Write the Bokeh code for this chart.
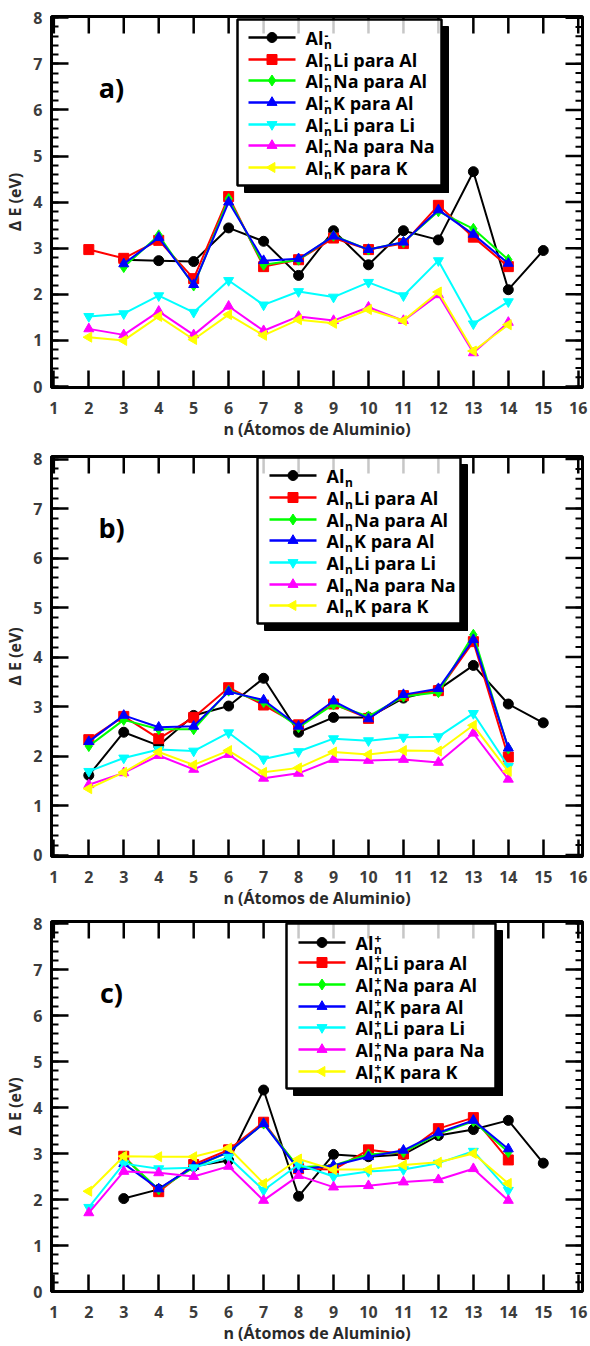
import numpy as np
from bokeh.plotting import figure
from bokeh.layouts import column
from bokeh.models import Range1d, FixedTicker
from bokeh.core.properties import value
from bokeh.embed import file_html
from bokeh.resources import INLINE

FONT = "Open Sans"
TICK_COLOR = "#3c3c3c"
TITLE_COLOR = "#2a2a2a"

# ---------------------------------------------------------------- data
# cluster size n (number of aluminium atoms)
n_2_14 = list(range(2, 15))
n_2_15 = list(range(2, 16))
n_3_14 = list(range(3, 15))
n_3_15 = list(range(3, 16))

# a) anionic clusters Al_n^-
a_aln = [2.75, 2.73, 2.71, 3.44, 3.15, 2.41, 3.38, 2.64, 3.38, 3.18, 4.66, 2.10, 2.95]
a_li_al = [2.97, 2.78, 3.17, 2.34, 4.12, 2.60, 2.75, 3.22, 2.97, 3.10, 3.93, 3.24, 2.60]
a_na_al = [2.59, 3.28, 2.19, 4.07, 2.64, 2.75, 3.27, 2.97, 3.13, 3.80, 3.42, 2.75]
a_k_al = [2.66, 3.23, 2.21, 4.00, 2.73, 2.77, 3.26, 2.97, 3.13, 3.83, 3.30, 2.67]
a_li_li = [1.52, 1.58, 1.97, 1.61, 2.30, 1.77, 2.06, 1.94, 2.26, 1.97, 2.73, 1.36, 1.84]
a_na_na = [1.25, 1.12, 1.63, 1.12, 1.74, 1.21, 1.52, 1.43, 1.72, 1.43, 1.99, 0.73, 1.39]
a_k_k = [1.07, 1.00, 1.52, 1.02, 1.56, 1.11, 1.45, 1.37, 1.67, 1.43, 2.05, 0.77, 1.34]

# b) neutral clusters Al_n
b_aln = [1.61, 2.48, 2.21, 2.82, 3.01, 3.57, 2.48, 2.78, 2.78, 3.17, 3.34, 3.83, 3.05, 2.67]
b_li_al = [2.33, 2.80, 2.35, 2.78, 3.38, 3.03, 2.63, 3.05, 2.76, 3.22, 3.32, 4.31, 1.98]
b_na_al = [2.20, 2.73, 2.54, 2.54, 3.32, 3.09, 2.58, 3.04, 2.80, 3.20, 3.29, 4.45, 2.15]
b_k_al = [2.29, 2.82, 2.58, 2.60, 3.30, 3.13, 2.60, 3.11, 2.75, 3.24, 3.36, 4.35, 2.16]
b_li_li = [1.69, 1.96, 2.13, 2.10, 2.47, 1.94, 2.09, 2.35, 2.31, 2.38, 2.39, 2.86, 1.79]
b_na_na = [1.42, 1.66, 2.01, 1.73, 2.03, 1.55, 1.65, 1.93, 1.91, 1.93, 1.87, 2.46, 1.53]
b_k_k = [1.34, 1.67, 2.08, 1.82, 2.11, 1.67, 1.76, 2.08, 2.03, 2.11, 2.10, 2.62, 1.69]

# c) cationic clusters Al_n^+
c_aln = [2.02, 2.22, 2.72, 2.85, 4.38, 2.07, 2.98, 2.93, 2.98, 3.39, 3.52, 3.72, 2.79]
c_li_al = [2.94, 2.17, 2.76, 3.08, 3.68, 2.67, 2.65, 3.08, 2.99, 3.54, 3.78, 2.86]
c_na_al = [2.92, 2.22, 2.70, 3.03, 3.65, 2.70, 2.74, 2.98, 3.03, 3.43, 3.70, 3.03]
c_k_al = [2.78, 2.23, 2.72, 3.03, 3.65, 2.65, 2.74, 2.93, 3.07, 3.45, 3.72, 3.10]
c_li_li = [1.83, 2.78, 2.67, 2.69, 2.92, 2.20, 2.76, 2.50, 2.61, 2.65, 2.79, 3.05, 2.20]
c_na_na = [1.71, 2.61, 2.58, 2.50, 2.72, 1.98, 2.52, 2.27, 2.30, 2.38, 2.43, 2.67, 1.98]
c_k_k = [2.18, 2.94, 2.93, 2.93, 3.12, 2.35, 2.88, 2.65, 2.65, 2.75, 2.81, 3.00, 2.35]

x_ticks = list(range(1, 17))
y_ticks = list(range(0, 9))
y_minor = [i * 0.2 for i in range(41)]

# legend text after "Al_n", colour, marker, marker size, marker angle
STYLES = [
    ("", "#000000", "circle", 10, 0.0),
    ("Li para Al", "#FF0000", "square", 10, 0.0),
    ("Na para Al", "#00FF00", "diamond", 11, 0.0),
    ("K para Al", "#0000FF", "triangle", 10, 0.0),
    ("Li para Li", "#00FFFF", "inverted_triangle", 10, 0.0),
    ("Na para Na", "#FF00FF", "triangle", 10, 0.0),
    ("K para K", "#FFFF00", "triangle", 10, np.pi / 2),
]

# ---------------------------------------------------------------- layout constants
FRAME_LEFT = 51
FRAME_W = 531
X_PER_UNIT = 34.96
X0 = 2 - (88.3 - FRAME_LEFT) / X_PER_UNIT
X1 = X0 + FRAME_W / X_PER_UNIT
MAJOR_LEN = 17
MINOR_LEN = 7


def style_axis(ax, minor):
    ax.axis_line_width = 3
    ax.axis_line_color = "black"
    ax.major_tick_in = MAJOR_LEN
    ax.major_tick_out = 0
    ax.major_tick_line_width = 2.5
    ax.major_tick_line_color = "black"
    ax.minor_tick_in = MINOR_LEN
    ax.minor_tick_out = 0
    ax.minor_tick_line_width = 2
    ax.minor_tick_line_color = "black" if minor else None
    ax.major_label_text_font = FONT
    ax.major_label_text_font_style = "bold"
    ax.major_label_text_font_size = "16px"
    ax.major_label_text_color = TICK_COLOR


def make_panel(tag, charge, series, top_page, frame_top, frame_h, zero_px,
               y_per_unit, fig_h, box, rows, line_x, text_x, sup_dy):
    y_top = (zero_px - frame_top) / y_per_unit
    y_bot = (zero_px - (frame_top + frame_h)) / y_per_unit

    def X(px):
        return X0 + (px - FRAME_LEFT) / X_PER_UNIT

    def Y(py):
        return (zero_px - py) / y_per_unit

    border_top = frame_top - top_page
    border_bottom = fig_h - border_top - frame_h
    p = figure(frame_width=FRAME_W, frame_height=frame_h,
               min_border_left=FRAME_LEFT, min_border_right=8,
               min_border_top=border_top, min_border_bottom=border_bottom,
               x_range=Range1d(X0, X1), y_range=Range1d(y_bot, y_top),
               output_backend="svg", toolbar_location=None)
    p.outline_line_color = "black"
    p.outline_line_width = 3
    p.xgrid.visible = False
    p.ygrid.visible = False
    p.background_fill_color = "white"
    p.border_fill_color = "white"

    xb = p.below[0]
    xb.ticker = FixedTicker(ticks=x_ticks)
    style_axis(xb, False)
    xb.major_label_standoff = 14
    xb.axis_label = "n (Átomos de Aluminio)"
    xb.axis_label_standoff = 1
    xb.axis_label_text_font = FONT
    xb.axis_label_text_font_style = "bold"
    xb.axis_label_text_font_size = "16px"
    xb.axis_label_text_color = TITLE_COLOR

    yl = p.left[0]
    yl.ticker = FixedTicker(ticks=y_ticks, minor_ticks=y_minor)
    style_axis(yl, True)
    yl.major_label_standoff = 9
    yl.axis_label = "Δ E (eV)"
    yl.axis_label_standoff = 4
    yl.axis_label_text_font = FONT
    yl.axis_label_text_font_style = "bold"
    yl.axis_label_text_font_size = "16px"
    yl.axis_label_text_color = TITLE_COLOR

    # mirrored inward ticks on the right and top frame edges
    dx_major = MAJOR_LEN / X_PER_UNIT
    dx_minor = MINOR_LEN / X_PER_UNIT
    dy_major = MAJOR_LEN / y_per_unit
    p.segment(x0=[X1] * len(y_ticks), x1=[X1 - dx_major] * len(y_ticks),
              y0=y_ticks, y1=y_ticks, line_color="black", line_width=2.5)
    p.segment(x0=[X1] * len(y_minor), x1=[X1 - dx_minor] * len(y_minor),
              y0=y_minor, y1=y_minor, line_color="black", line_width=2)
    p.segment(x0=x_ticks, x1=x_ticks, y0=[y_top] * len(x_ticks),
              y1=[y_top - dy_major] * len(x_ticks), line_color="black", line_width=2.5)

    # data series
    for (label, color, marker, size, angle), (ns, vals) in zip(STYLES, series):
        p.line(ns, vals, line_color=color, line_width=2)
        p.scatter(ns, vals, marker=marker, size=size, angle=angle,
                  fill_color=color, line_color=color)

    # legend frame with drop shadow along its right and bottom edges
    l, t, r, b = box
    sh = 7
    p.quad(left=[X(r), X(l + sh)], right=[X(r + sh), X(r + sh)],
           top=[Y(t + sh), Y(b)], bottom=[Y(b + sh), Y(b + sh)],
           fill_color="black", line_color="black", level="annotation")
    p.quad(left=[X(l)], right=[X(r)], top=[Y(t)], bottom=[Y(b)],
           fill_color="white", fill_alpha=0.78, line_color="black",
           line_width=2.5, level="annotation")

    txt = dict(text_font=value(FONT), text_font_style="bold", text_color="black",
               text_align="left", text_baseline="middle", level="overlay")
    for (label, color, marker, size, angle), ry in zip(STYLES, rows):
        yy = Y(ry)
        p.line([X(line_x), X(line_x + 47)], [yy, yy], line_color=color,
               line_width=2.5, level="overlay")
        p.scatter([X(line_x + 23.5)], [yy], marker=marker, size=size, angle=angle,
                  fill_color=color, line_color=color, level="overlay")
        p.text([X(text_x)], [yy], text=["Al"], text_font_size="18px", **txt)
        p.text([X(text_x)], [yy], text=["n"], text_font_size="12px",
               x_offset=18.5, y_offset=7, **txt)
        if charge:
            p.text([X(text_x)], [yy], text=[charge], text_font_size="12px",
                   x_offset=19, y_offset=sup_dy, **txt)
        if label:
            p.text([X(text_x)], [yy], text=[label], text_font_size="18px",
                   x_offset=27.5, **txt)

    # panel tag
    p.text([X(111)], [Y(frame_top + 71)], text=[tag], text_font=value(FONT),
           text_font_style="bold", text_font_size="27px", text_color="black",
           text_align="center", text_baseline="middle", level="overlay")
    return p


series_a = [(n_3_15, a_aln), (n_2_14, a_li_al), (n_3_14, a_na_al), (n_3_14, a_k_al),
            (n_2_14, a_li_li), (n_2_14, a_na_na), (n_2_14, a_k_k)]
series_b = [(n_2_15, b_aln), (n_2_14, b_li_al), (n_2_14, b_na_al), (n_2_14, b_k_al),
            (n_2_14, b_li_li), (n_2_14, b_na_na), (n_2_14, b_k_k)]
series_c = [(n_3_15, c_aln), (n_3_14, c_li_al), (n_3_14, c_na_al), (n_3_14, c_k_al),
            (n_2_14, c_li_li), (n_2_14, c_na_na), (n_2_14, c_k_k)]

pa = make_panel("a)", "-", series_a, top_page=0, frame_top=16, frame_h=371,
                zero_px=386, y_per_unit=46.1, fig_h=448,
                box=(237, 19, 441, 185),
                rows=[37, 59, 80, 102, 124, 145, 167], line_x=248, text_x=305,
                sup_dy=-2)
pb = make_panel("b)", "", series_b, top_page=448, frame_top=456, frame_h=400,
                zero_px=854.5, y_per_unit=49.5, fig_h=465,
                box=(257, 457, 460, 623),
                rows=[475, 497, 519, 540, 562, 584, 605], line_x=269, text_x=326,
                sup_dy=-2)
pc = make_panel("c)", "+", series_c, top_page=913, frame_top=921, frame_h=370,
                zero_px=1291, y_per_unit=46.0, fig_h=433,
                box=(286, 923, 495, 1088),
                rows=[942, 962, 984, 1006, 1027, 1049, 1071], line_x=298, text_x=355,
                sup_dy=-4)

layout = column(pa, pb, pc)
open("out.html", "w").write(file_html(layout, INLINE))
